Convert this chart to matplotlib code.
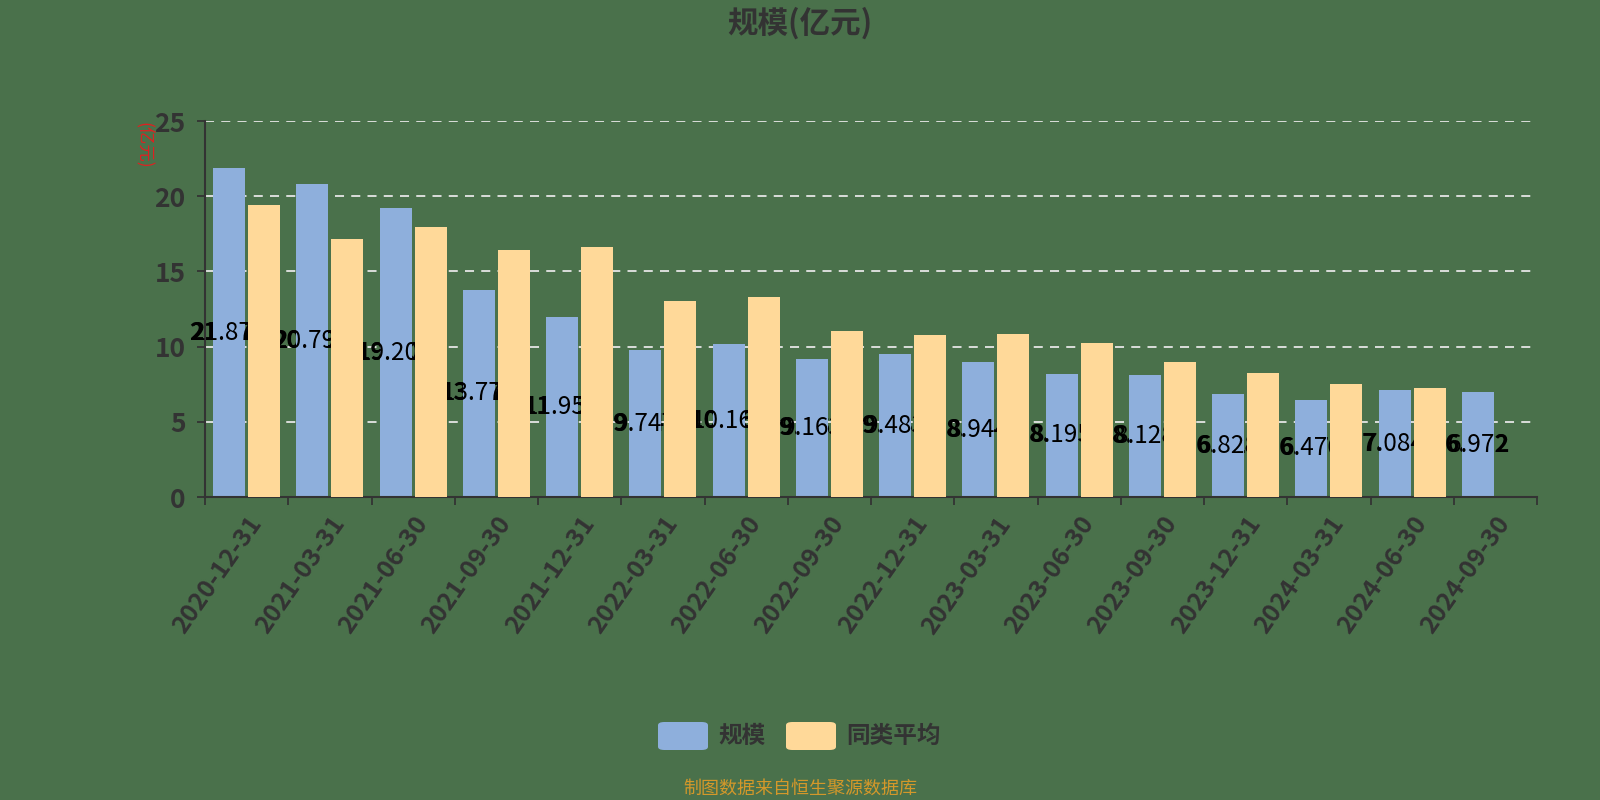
import matplotlib
matplotlib.use("Agg")
import matplotlib.pyplot as plt
from matplotlib.patches import FancyBboxPatch
import numpy as np

plt.rcParams['font.family'] = ['Noto Sans CJK SC', 'DejaVu Sans']

dates = ["2020-12-31", "2021-03-31", "2021-06-30", "2021-09-30", "2021-12-31",
         "2022-03-31", "2022-06-30", "2022-09-30", "2022-12-31", "2023-03-31",
         "2023-06-30", "2023-09-30", "2023-12-31", "2024-03-31", "2024-06-30",
         "2024-09-30"]
scale = [21.874, 20.793, 19.204, 13.774, 11.953, 9.747, 10.164, 9.163, 9.483,
         8.944, 8.195, 8.128, 6.828, 6.476, 7.084, 6.972]
peer_avg = [19.42, 17.18, 17.98, 16.45, 16.62, 13.05, 13.32, 11.02, 10.75,
            10.83, 10.22, 9.00, 8.26, 7.50, 7.23, np.nan]

BG = '#4a714b'
BLUE = '#8eafdc'
YELLOW = '#ffd999'
DARK = '#333333'

fig = plt.figure(figsize=(16, 8), dpi=100, facecolor=BG)
L, R, T, B = 205, 1537, 121, 497
ax = fig.add_axes([L/1600, 1-B/800, (R-L)/1600, (B-T)/800])
ax.set_facecolor(BG)

x = np.arange(len(dates))
w = 0.385
off = 0.21

ax.bar(x - off, scale, width=w, color=BLUE, zorder=2)
ax.bar(x + off, peer_avg, width=w, color=YELLOW, zorder=4)

for xi, v in zip(x, scale):
    s = f"{v:.3f}"
    ax.text(xi - off, v / 2, s, ha='center', va='center', fontsize=17.5,
            fontweight='bold', color='black', zorder=1.5)
    ax.text(xi - off, v / 2, s, ha='center', va='center', fontsize=17.5,
            color='black', zorder=3)

ax.set_xlim(-0.5, len(dates) - 0.5)
ax.set_ylim(0, 25)
ax.set_yticks([0, 5, 10, 15, 20, 25])
ax.yaxis.grid(True, linestyle=(0, (5, 4)), color='#e6e6e6', linewidth=1.3, zorder=0.5)
ax.set_axisbelow(True)

ax.set_xticks(x)
ax.set_xticklabels(dates, rotation=55, ha='right', va='top', rotation_mode='anchor',
                   fontsize=18, fontweight='bold', color=DARK)
ax.tick_params(axis='x', which='major', length=0, pad=11)
ax.set_xticks(np.arange(-0.5, len(dates) + 0.5, 1), minor=True)
ax.tick_params(axis='x', which='minor', length=6, width=1.3, color=DARK)
ax.tick_params(axis='y', length=6, width=1.3, color=DARK, labelsize=19,
               labelcolor=DARK, pad=8)
for t in ax.get_yticklabels():
    t.set_fontweight('bold')

for sp in ['top', 'right']:
    ax.spines[sp].set_visible(False)
for sp in ['left', 'bottom']:
    ax.spines[sp].set_color(DARK)
    ax.spines[sp].set_linewidth(1.5)

# titles and annotations
fig.text(800/1600, 1-23/800, "规模(亿元)", ha='center', va='center',
         fontsize=22, fontweight='bold', color=DARK)
fig.text(143/1600, 1-145/800, "(亿元)", ha='center', va='center', rotation=-90,
         fontsize=12.5, color='#e02020')
fig.text(800/1600, 1-789/800, "制图数据来自恒生聚源数据库", ha='center', va='center',
         fontsize=13, color='#d4982a')

# legend
legend_items = [("规模", BLUE, 658), ("同类平均", YELLOW, 786)]
for label, col, px in legend_items:
    p = FancyBboxPatch((px/1600, 1-750/800), 50/1600, 28/800,
                       boxstyle="round,pad=0,rounding_size=0.004",
                       transform=fig.transFigure, facecolor=col, edgecolor='none')
    fig.patches.append(p)
    fig.text((px + 60)/1600, 1-736/800, label, ha='left', va='center',
             fontsize=17, fontweight='bold', color=DARK)

fig.savefig("out.png", dpi=100, facecolor=BG)
